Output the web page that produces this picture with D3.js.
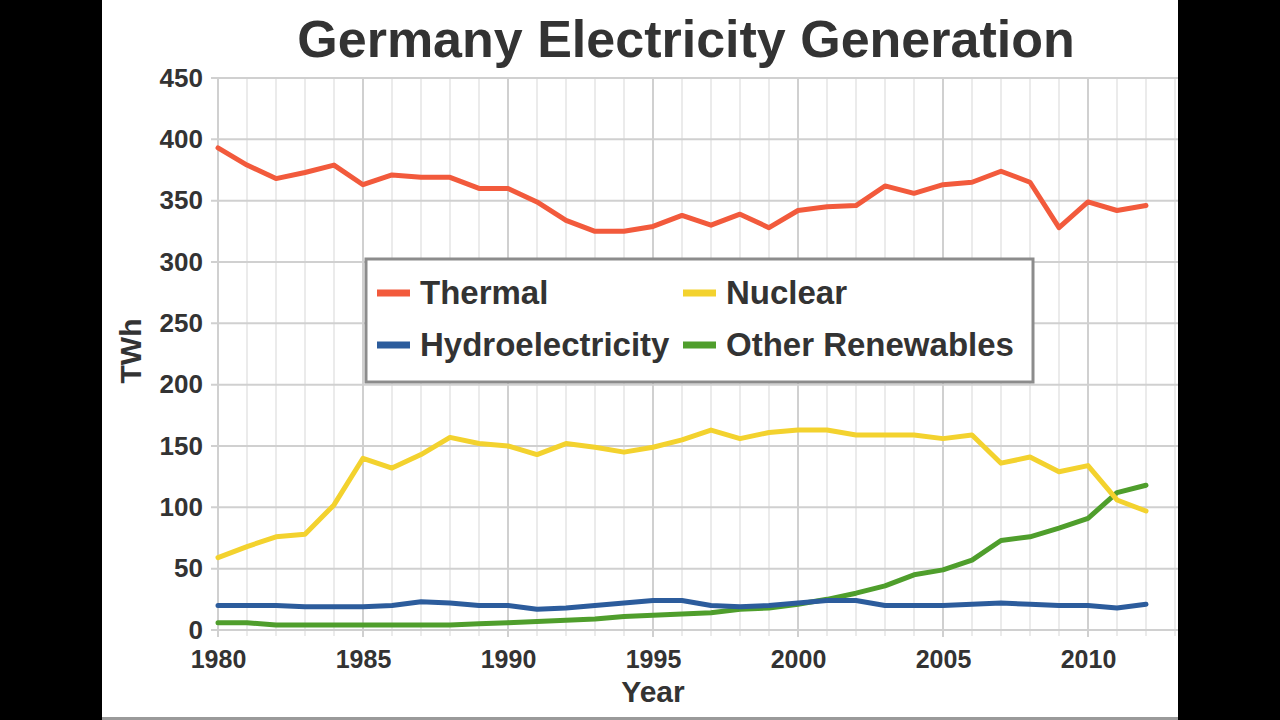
<!DOCTYPE html>
<html>
<head>
<meta charset="utf-8">
<script src="https://cdn.jsdelivr.net/npm/d3@7"></script>
<style>
  html, body { margin: 0; padding: 0; background: #000; }
  svg { display: block; }
  text { font-family: "Liberation Sans", Arial, sans-serif; font-weight: bold; fill: #333; }
</style>
</head>
<body>
<svg id="chart" width="1280" height="720"></svg>
<script>
// ---- Data (TWh) ----
const years = [1980,1981,1982,1983,1984,1985,1986,1987,1988,1989,1990,1991,1992,1993,1994,1995,1996,1997,1998,1999,2000,2001,2002,2003,2004,2005,2006,2007,2008,2009,2010,2011,2012];
const thermal = [393,379,368,373,379,363,371,369,369,360,360,349,334,325,325,329,338,330,339,328,342,345,346,362,356,363,365,374,365,328,349,342,346];
const nuclear = [59,68,76,78,102,140,132,143,157,152,150,143,152,149,145,149,155,163,156,161,163,163,159,159,159,156,159,136,141,129,134,106,97];
const hydro = [20,20,20,19,19,19,20,23,22,20,20,17,18,20,22,24,24,20,19,20,22,24,24,20,20,20,21,22,21,20,20,18,21];
const otherRenewables = [6,6,4,4,4,4,4,4,4,5,6,7,8,9,11,12,13,14,17,18,21,25,30,36,45,49,57,73,76,83,91,112,118];

const seriesNames = ["Thermal", "Nuclear", "Hydroelectricity", "Other Renewables"];
const seriesColors = ["#f25a3c", "#f3d22e", "#2c5c9c", "#4f9e2c"];
const seriesValues = [thermal, nuclear, hydro, otherRenewables];

const yTicks = [0,50,100,150,200,250,300,350,400,450];
const xMajorTicks = [1980,1985,1990,1995,2000,2005,2010];
const xMinorTicks = [1980,1981,1982,1983,1984,1985,1986,1987,1988,1989,1990,1991,1992,1993,1994,1995,1996,1997,1998,1999,2000,2001,2002,2003,2004,2005,2006,2007,2008,2009,2010,2011,2012,2013];

// ---- Layout ----
const svg = d3.select("#chart");
const x = d3.scaleLinear().domain([1980, 2013]).range([218, 1175]);
const y = d3.scaleLinear().domain([0, 450]).range([630, 78]);

// white page area
svg.append("rect").attr("x", 102).attr("y", 0).attr("width", 1076).attr("height", 717).attr("fill", "#fff");
svg.append("rect").attr("x", 102).attr("y", 717).attr("width", 1076).attr("height", 3).attr("fill", "#9a9a9a");

svg.append("defs").append("clipPath").attr("id", "pageclip")
  .append("rect").attr("x", 102).attr("y", 0).attr("width", 1076).attr("height", 717);

const g = svg.append("g").attr("clip-path", "url(#pageclip)");

// minor vertical grid
g.append("g").selectAll("line").data(xMinorTicks.filter(d => xMajorTicks.indexOf(d) < 0)).join("line")
  .attr("x1", d => x(d)).attr("x2", d => x(d))
  .attr("y1", y(450)).attr("y2", y(0) + 6)
  .attr("stroke", "#e6e6e6").attr("stroke-width", 1.6);

// major vertical grid
g.append("g").selectAll("line").data(xMajorTicks).join("line")
  .attr("x1", d => x(d)).attr("x2", d => x(d))
  .attr("y1", y(450)).attr("y2", y(0) + 7)
  .attr("stroke", "#d0d0d0").attr("stroke-width", 2);

// horizontal grid
g.append("g").selectAll("line").data(yTicks).join("line")
  .attr("x1", x(1980) - 7).attr("x2", 1178)
  .attr("y1", d => y(d)).attr("y2", d => y(d))
  .attr("stroke", "#d0d0d0").attr("stroke-width", 2);

// axes labels
const yAxis = d3.axisLeft(y).tickValues(yTicks).tickSize(0).tickPadding(15).tickFormat(d3.format("d"));
const yg = svg.append("g").attr("transform", `translate(${x(1980)},0)`).call(yAxis);
yg.select(".domain").remove();
yg.selectAll("text").style("font-size", "26px").attr("fill", "#333");

const xAxis = d3.axisBottom(x).tickValues(xMajorTicks).tickSize(0).tickPadding(20).tickFormat(d3.format("d"));
const xg = svg.append("g").attr("transform", `translate(0,${y(0)})`).call(xAxis);
xg.select(".domain").remove();
xg.selectAll("text").style("font-size", "25px").attr("fill", "#333");

// lines
const line = d3.line().x((d, i) => x(years[i])).y(d => y(d));
const drawOrder = [3, 2, 1, 0];
g.append("g").selectAll("path").data(drawOrder).join("path")
  .attr("d", i => line(seriesValues[i]))
  .attr("fill", "none")
  .attr("stroke", i => seriesColors[i])
  .attr("stroke-width", 5)
  .attr("stroke-linejoin", "round")
  .attr("stroke-linecap", "round");

// title
svg.append("text").attr("x", 686).attr("y", 57).attr("text-anchor", "middle")
  .style("font-size", "52px").text("Germany Electricity Generation");

// axis titles
svg.append("text").attr("x", 653).attr("y", 702).attr("text-anchor", "middle")
  .style("font-size", "30px").text("Year");
svg.append("text").attr("transform", "translate(141,351) rotate(-90)").attr("text-anchor", "middle")
  .style("font-size", "30px").text("TWh");

// legend
const legend = svg.append("g");
legend.append("rect").attr("x", 366).attr("y", 259).attr("width", 667).attr("height", 123)
  .attr("fill", "#fff").attr("stroke", "#8c8c8c").attr("stroke-width", 3);
const legendPos = [[377, 293], [683, 293], [377, 345], [683, 345]];
const items = legend.selectAll("g.item").data(seriesNames).join("g").attr("class", "item")
  .attr("transform", (d, i) => `translate(${legendPos[i][0]},${legendPos[i][1]})`);
items.append("line").attr("x1", 0).attr("x2", 33).attr("y1", 0).attr("y2", 0)
  .attr("stroke", (d, i) => seriesColors[i]).attr("stroke-width", 7);
items.append("text").attr("x", 43).attr("y", 11).style("font-size", "33px").text(d => d);
</script>
</body>
</html>
